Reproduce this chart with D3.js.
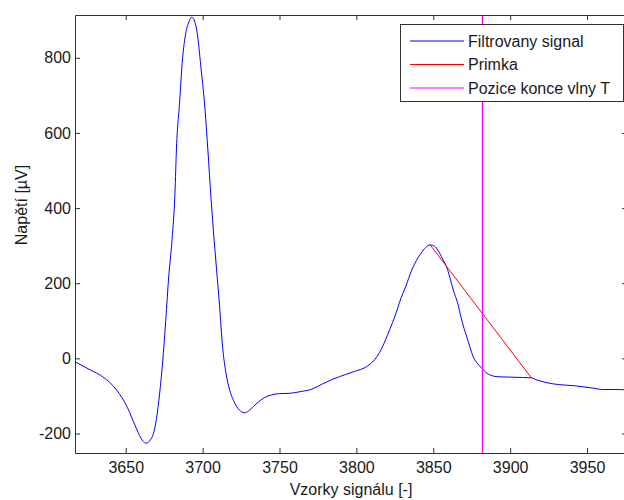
<!DOCTYPE html>
<html>
<head>
<meta charset="utf-8">
<script src="https://cdn.jsdelivr.net/npm/d3@7"></script>
<style>
  body { margin: 0; background: #fff; }
  svg { display: block; font-family: "Liberation Sans", Arial, sans-serif; }
  .axis text { font-size: 16px; fill: #1a1a1a; }
  .axis line, .axis path { stroke: #333; }
</style>
</head>
<body>
<div id="chart"></div>
<script>
// Signal samples (sample index -> voltage in uV)
const sampleIdx = [
  3617, 3627, 3635, 3644, 3651, 3656, 3660, 3663, 3667, 3670,
  3672, 3674, 3676, 3678, 3680, 3682, 3683, 3685, 3687, 3689,
  3691, 3693, 3695, 3697, 3699, 3701, 3703, 3705, 3707, 3709,
  3711, 3713, 3715, 3717, 3721, 3724, 3727, 3730, 3733, 3736,
  3740, 3745, 3750, 3757, 3763, 3771, 3778, 3785, 3793, 3800,
  3805, 3809, 3812, 3815, 3818, 3822, 3825, 3829, 3832, 3836,
  3839, 3842, 3845, 3848, 3851, 3853, 3856, 3859, 3861, 3863,
  3866, 3868, 3870, 3872, 3874, 3876, 3879, 3882, 3885, 3888,
  3892, 3900, 3908, 3914, 3917, 3922, 3928, 3935, 3942, 3948,
  3955, 3960, 3968, 3976
];
const signalUV = [
  -9, -31, -49, -84, -130, -178, -213, -226, -211, -160,
  -95, -10, 100, 220, 310, 440, 560, 680, 800, 865,
  895, 908, 895, 850, 770, 690, 580, 455, 340, 240,
  140, 30, -35, -75, -120, -138, -145, -140, -128, -117,
  -105, -97, -94, -93, -89, -82, -68, -55, -43, -33,
  -26, -15, -3, 15, 40, 80, 111, 160, 190, 235,
  260, 280, 295, 302, 298, 288, 265, 240, 212, 182,
  145, 110, 80, 55, 28, 4, -15, -28, -40, -46,
  -49, -50, -51, -52, -57, -63, -68, -71, -73, -76,
  -80, -83, -83, -84
];

// Tangent line (Primka)
const lineIdx = [3848, 3914];
const lineUV = [302, -53];

// T-wave end position
const tEnd = 3882;

const xTicks = [3650, 3700, 3750, 3800, 3850, 3900, 3950];
const yTicks = [-200, 0, 200, 400, 600, 800];

const legendLabels = ["Filtrovany signal", "Primka", "Pozice konce vlny T"];
const legendColors = ["#0000ff", "#ff0000", "#ff00ff"];

const width = 624, height = 500;
const box = { left: 75, right: 627, top: 15, bottom: 453 };

const svg = d3.select("#chart").append("svg")
  .attr("width", width)
  .attr("height", height);

const x = d3.scaleLinear().domain([3617, 3976]).range([box.left, box.right]);
const y = d3.scaleLinear().domain([-252, 914]).range([box.bottom, box.top]);

svg.append("clipPath").attr("id", "clip")
  .append("rect")
  .attr("x", box.left).attr("y", box.top)
  .attr("width", box.right - box.left).attr("height", box.bottom - box.top);

const plot = svg.append("g").attr("clip-path", "url(#clip)");

// blue signal
const sig = sampleIdx.map((d, i) => [d, signalUV[i]]);
plot.append("path")
  .datum(sig)
  .attr("fill", "none")
  .attr("stroke", legendColors[0])
  .attr("stroke-width", 1)
  .attr("d", d3.line().x(d => x(d[0])).y(d => y(d[1])).curve(d3.curveMonotoneX));

// red line
plot.append("line")
  .attr("x1", x(lineIdx[0])).attr("y1", y(lineUV[0]))
  .attr("x2", x(lineIdx[1])).attr("y2", y(lineUV[1]))
  .attr("stroke", legendColors[1])
  .attr("stroke-width", 1);

// magenta vertical
plot.append("line")
  .attr("x1", x(tEnd)).attr("x2", x(tEnd))
  .attr("y1", box.top).attr("y2", box.bottom)
  .attr("stroke", legendColors[2])
  .attr("stroke-width", 1.2);

// plain number labels (no thousands separator, ascii minus)
const fmt = d => String(d);

// axes (inward ticks, MATLAB style)
svg.append("g")
  .attr("class", "axis")
  .attr("transform", `translate(0,${box.bottom})`)
  .call(d3.axisBottom(x).tickValues(xTicks).tickSize(-5).tickSizeOuter(0).tickPadding(9).tickFormat(fmt));

svg.append("g")
  .attr("class", "axis")
  .attr("transform", `translate(0,${box.top})`)
  .call(d3.axisTop(x).tickValues(xTicks).tickSize(-5).tickSizeOuter(0).tickFormat(""));

svg.append("g")
  .attr("class", "axis")
  .attr("transform", `translate(${box.left},0)`)
  .call(d3.axisLeft(y).tickValues(yTicks).tickSize(-5).tickSizeOuter(0).tickPadding(4).tickFormat(fmt));

svg.append("g")
  .attr("class", "axis")
  .attr("transform", `translate(${box.right},0)`)
  .call(d3.axisRight(y).tickValues(yTicks).tickSize(-5).tickSizeOuter(0).tickFormat(""));

// axis labels
svg.append("text")
  .attr("x", 351).attr("y", 495)
  .attr("text-anchor", "middle")
  .style("font-size", "16px")
  .style("fill", "#1a1a1a")
  .text("Vzorky signálu [-]");

svg.append("text")
  .attr("transform", "translate(27,205) rotate(-90)")
  .attr("text-anchor", "middle")
  .style("font-size", "16px")
  .style("fill", "#1a1a1a")
  .text("Napětí [µV]");

// legend
const lg = svg.append("g");
lg.append("rect")
  .attr("x", 400.5).attr("y", 24.5)
  .attr("width", 223).attr("height", 77)
  .attr("fill", "#fff")
  .attr("stroke", "#333");

legendLabels.forEach((lab, i) => {
  const ly = 41 + i * 23.5;
  lg.append("line")
    .attr("x1", 410).attr("x2", 464)
    .attr("y1", ly).attr("y2", ly)
    .attr("stroke", legendColors[i]);
  lg.append("text")
    .attr("x", 468).attr("y", ly)
    .attr("dy", "0.36em")
    .style("font-size", "16px")
    .style("fill", "#1a1a1a")
    .text(lab);
});
</script>
</body>
</html>
